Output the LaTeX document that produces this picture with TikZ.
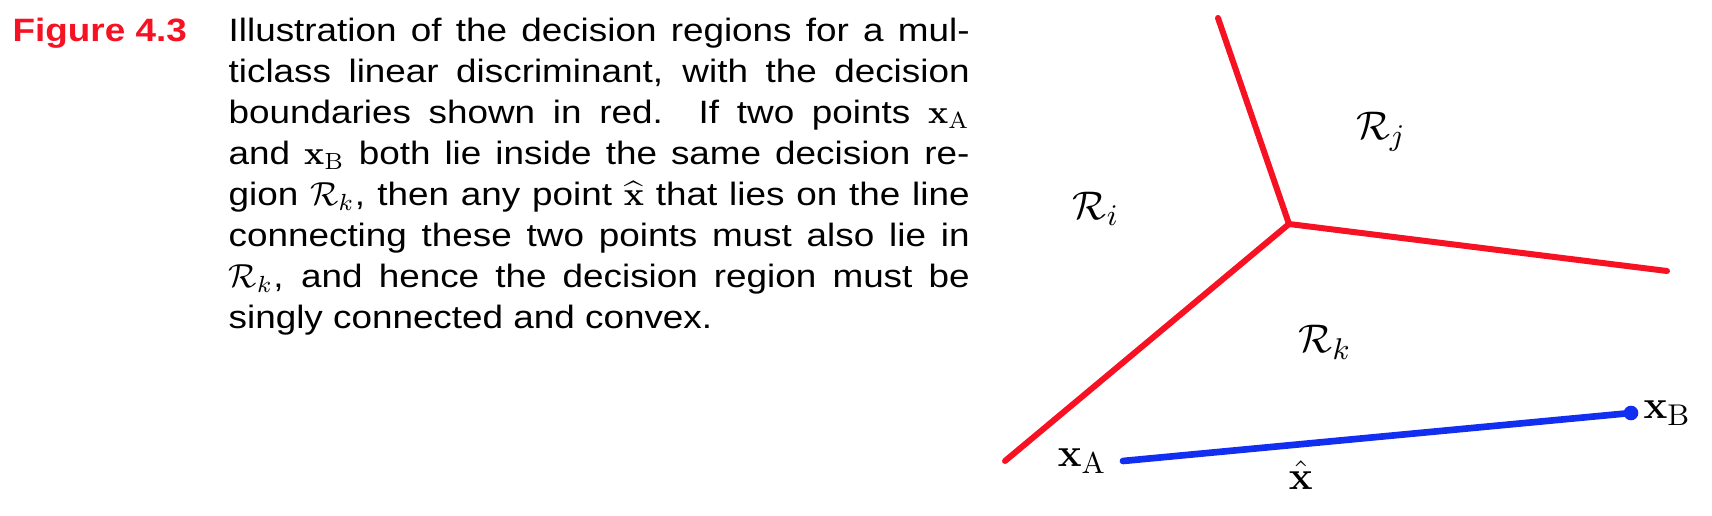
\documentclass[tikz,border=0pt]{standalone}
\usepackage[no-math]{fontspec}
\setmainfont{Liberation Sans}[FakeStretch=1.14]
\usetikzlibrary{positioning}
\definecolor{bndred}{RGB}{246,18,34}
\definecolor{segblue}{RGB}{18,46,240}
\tikzset{
  boundary/.style={bndred, line width=1.8pt, line cap=round},
  segment/.style={segblue, line width=2pt, line cap=round},
  lbl/.style={inner sep=0pt, font=\fontsize{12.5}{15}\selectfont},
  captext/.style={inner sep=0pt, font=\fontsize{9.7}{12.27}\selectfont}
}

\begin{document}
\begin{tikzpicture}[x=0.3pt, y=-0.3pt]
  \useasboundingbox (0,0) rectangle (1712,516);
  % caption
  \node[captext, anchor=base west, text=bndred, font=\fontsize{9.7}{12.27}\selectfont\bfseries] (figno) at (12,42) {Figure 4.3};
  \node[captext, anchor=base west, text width=222.3pt, align=justify] (caption) at (228,42)
  {Illustration of the decision regions for a mul-\linebreak
   ticlass linear discriminant, with the decision\linebreak
   boundaries shown in red.  If two points $\mathbf{x}_{\mathrm{A}}$\linebreak
   and $\mathbf{x}_{\mathrm{B}}$ both lie inside the same decision re-\linebreak
   gion $\mathcal{R}_k$, then any point $\widehat{\mathbf{x}}$ that lies on the line\linebreak
   connecting these two points must also lie in\linebreak
   $\mathcal{R}_k$, and hence the decision region must be\linebreak
   singly connected and convex.};
  % decision boundaries
  \coordinate (top) at (1218,18);
  \coordinate (junc) at (1289,224);
  \coordinate (right) at (1667,271);
  \coordinate (low) at (1005,461);
  \draw[boundary] (top) -- (junc) -- (right);
  \draw[boundary] (junc) -- (low);
  \foreach \r/\x/\y in {i/1096/209, j/1381/132, k/1325/342}
    \node[lbl] (R\r) at (\x,\y) {$\mathcal{R}_\r$};
  % the two points
  \coordinate (xA) at (1123,461);
  \coordinate (xB) at (1631,413);
  \draw[segment] (xA) -- node[lbl, pos=0.35, below=4pt, text=black] (xhat) {$\hat{\mathbf{x}}$} (xB);
  \fill[segblue] (xB) circle (2.2pt);
  \node[lbl, left=4.8pt of xA] (labA) {$\mathbf{x}_{\mathrm{A}}$};
  \node[lbl, right=3.6pt of xB] (labB) {$\mathbf{x}_{\mathrm{B}}$};
\end{tikzpicture}
\end{document}
